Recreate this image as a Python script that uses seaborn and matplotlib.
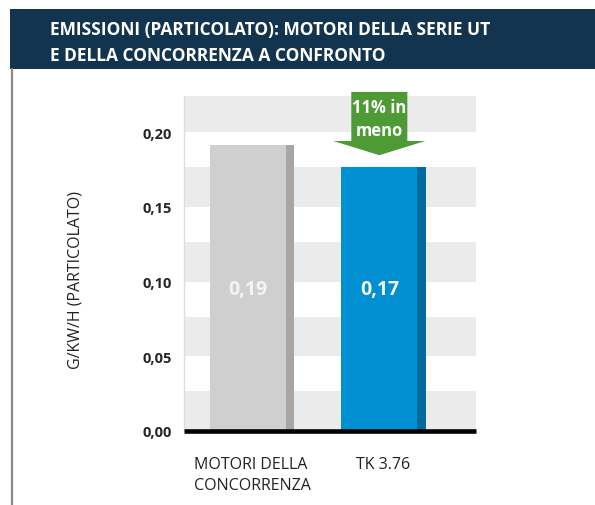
import matplotlib
matplotlib.use("Agg")
import matplotlib.pyplot as plt
from matplotlib.patches import Rectangle, Polygon
import seaborn as sns
import pandas as pd

# data
categories = ["MOTORI DELLA\nCONCORRENZA", "TK 3.76"]
values = [0.191, 0.1765]
value_labels = ["0,19", "0,17"]
y_ticks = [0.00, 0.05, 0.10, 0.15, 0.20]
y_tick_labels = ["0,00", "0,05", "0,10", "0,15", "0,20"]
arrow_text = "11% in\nmeno"
title = "EMISSIONI (PARTICOLATO): MOTORI DELLA SERIE UT\nE DELLA CONCORRENZA A CONFRONTO"
y_title = "G/KW/H (PARTICOLATO)"

main_colors = ["#cfcfcf", "#0090d2"]
edge_colors = ["#a9a5a2", "#006b9e"]

sns.set_theme(style="white")
plt.rcParams["font.family"] = ["Open Sans", "DejaVu Sans"]

df = pd.DataFrame({"cat": categories, "val": values})

fig = plt.figure(figsize=(5.95, 5.06), dpi=100)
ax = fig.add_axes([184 / 595, 1 - 432 / 506, 292 / 595, 335 / 506])

# alternating bands behind the bars
for t in y_ticks:
    ax.axhspan(t, t + 0.0265, color="#ebebeb", lw=0, zorder=0)

sns.barplot(data=df, x="cat", y="val", hue="cat", palette=main_colors,
            width=0.64, legend=False, ax=ax, zorder=2, saturation=1,
            linewidth=0, edgecolor="none")
bars = [b for c in ax.containers for b in c]

# darker strip on the right side of each bar
for p, c in zip(bars, edge_colors):
    w = p.get_width() * 0.1
    ax.add_patch(Rectangle((p.get_x() + p.get_width() - w, 0), w, p.get_height(),
                           color=c, lw=0, zorder=3))

label_y = 0.095
for p, lab in zip(bars, value_labels):
    cx = p.get_x() + p.get_width() * 0.45
    ax.text(cx, label_y, lab, color="#f4f4f4", ha="center", va="center",
            fontsize=14, fontweight="bold", zorder=4)

# green arrow above the second bar
p = bars[1]
cx = p.get_x() + p.get_width() * 0.45
top = p.get_height()
tip = top + 0.008
base = top + 0.0175
shaft_top = 0.2268
sw, hw = 0.213, 0.35
arrow = Polygon([(cx - sw, shaft_top), (cx + sw, shaft_top), (cx + sw, base),
                 (cx + hw, base), (cx, tip), (cx - hw, base), (cx - sw, base)],
                closed=True, color="#4e9a34", lw=0, clip_on=False, zorder=5)
ax.add_patch(arrow)
ax.text(cx, (shaft_top + base) / 2 - 0.0015, arrow_text, color="white", ha="center",
        va="center", fontsize=12, fontweight="bold", linespacing=1.35,
        zorder=6, clip_on=False)

ax.axhline(0, color="black", lw=3.3, zorder=4, clip_on=False, solid_capstyle="butt")

ax.set_ylim(0, 0.2241)
ax.set_xlim(-0.517, 1.703)
ax.set_yticks(y_ticks)
ax.set_yticklabels(y_tick_labels, fontweight="bold", fontsize=10.5)
ax.set_xticks(range(len(categories)))
ax.set_xticklabels(categories, fontsize=11.5, linespacing=1.4, multialignment="left",
                   color="#222222", va="top")
ax.tick_params(axis="y", length=0, pad=9)
ax.tick_params(axis="x", length=0, pad=18)
ax.set_xlabel("")
ax.set_ylabel("")
for s in ["top", "right", "bottom"]:
    ax.spines[s].set_visible(False)
ax.spines["left"].set_color("#dddddd")
ax.spines["left"].set_linewidth(1)

fig.text(76 / 595, 1 - 280 / 506, y_title, rotation=90, ha="center", va="center",
         fontsize=11.5, color="#222222")

# dark title band and left border
fig.patches.append(Rectangle((10 / 595, 1 - 70 / 506), 1, 60 / 506, color="#12344f",
                             lw=0, transform=fig.transFigure, figure=fig))
fig.add_artist(plt.Line2D([11.5 / 595, 11.5 / 595], [0, 1 - 70 / 506], color="#8a8a8a",
                          lw=1.6, transform=fig.transFigure))
fig.text(50 / 595, 1 - 43 / 506, title, color="white", ha="left", va="center",
         fontsize=12.5, fontweight="bold", linespacing=1.6)

fig.savefig("out.png", dpi=100)
